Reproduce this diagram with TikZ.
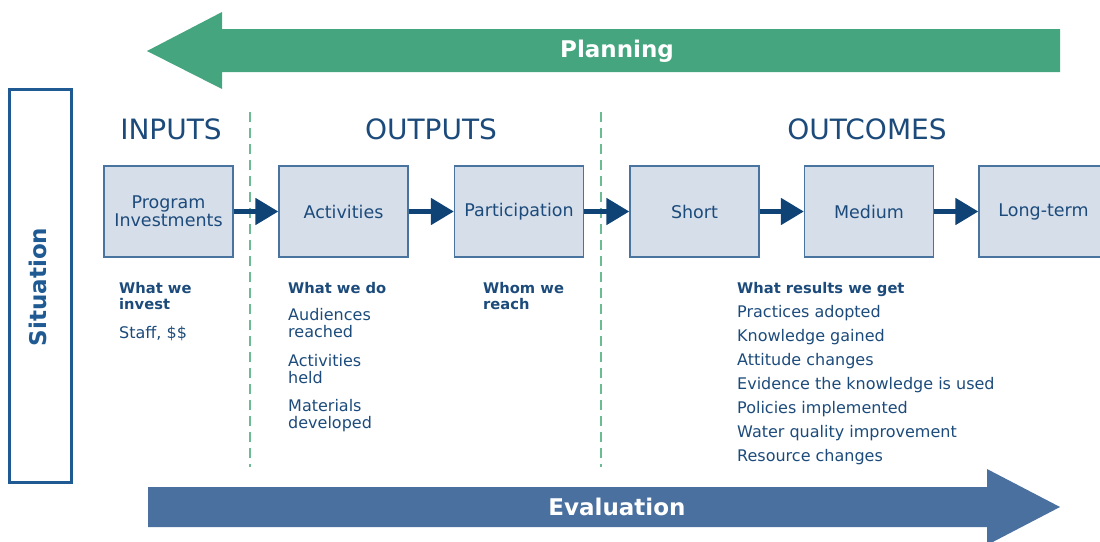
\documentclass[tikz,border=0pt]{standalone}
\usepackage{fontspec}
\setmainfont{DejaVu Sans}
\usetikzlibrary{arrows.meta}
\definecolor{plangreen}{HTML}{44A57F}
\definecolor{dashgreen}{HTML}{6DBB94}
\definecolor{evalblue}{HTML}{4A70A0}
\definecolor{navy}{HTML}{1C4B7B}
\definecolor{boxfill}{HTML}{D6DEEA}
\definecolor{boxline}{HTML}{4A74A0}
\definecolor{connblue}{HTML}{0F4275}
\definecolor{sitblue}{HTML}{1F5A93}
\tikzset{
  stagebox/.style={draw=boxline, line width=1.3pt, fill=boxfill, minimum width=129pt, minimum height=91pt, inner sep=0pt, text=navy, font=\fontsize{17.5}{19}\selectfont, align=center},
  conn/.style={draw=connblue, line width=5pt, -{Triangle[length=23pt,width=26pt]}},
  heading/.style={text=navy, font=\fontsize{28}{30}\selectfont, anchor=base, inner sep=0pt},
  lbl/.style={text=navy, font=\bfseries\fontsize{14.7}{16}\selectfont, anchor=base west, inner sep=0pt},
  item/.style={text=navy, font=\fontsize{16}{17}\selectfont, anchor=base west, inner sep=0pt},
  divider/.style={draw=dashgreen, line width=2.5pt, dash pattern=on 10pt off 6pt},
  bigtext/.style={text=white, font=\bfseries\fontsize{23}{25}\selectfont, inner sep=0pt}
}
\begin{document}
\begin{tikzpicture}[x=1pt,y=-1pt]
\useasboundingbox (0,0) rectangle (1100,541);
\clip (0,0) rectangle (1100,541);
% Planning arrow
\fill[plangreen] (1060,29) -- (222,29) -- (222,12) -- (147,51) -- (222,89) -- (222,72) -- (1060,72) -- cycle;
\node[bigtext] (planning) at (617,51) {Planning};
% Evaluation arrow
\fill[evalblue] (148,487) -- (987,487) -- (987,469) -- (1060,507) -- (987,545) -- (987,527) -- (148,527) -- cycle;
\node[bigtext] (evaluation) at (617,507) {Evaluation};
% Situation box
\draw[sitblue, line width=3pt] (9,89) rectangle (71,482);
\node[text=sitblue, font=\bfseries\fontsize{23}{25}\selectfont, rotate=90, inner sep=0pt] (situation) at (38,287) {Situation};
% dividers
\coordinate (d1t) at (250,112); \coordinate (d1b) at (250,467);
\coordinate (d2t) at (601,112); \coordinate (d2b) at (601,467);
\draw[divider] (d1t) -- (d1b);
\draw[divider] (d2t) -- (d2b);
% headings
\node[heading] (hin) at (171,139) {INPUTS};
\node[heading] (hout) at (431,139) {OUTPUTS};
\node[heading] (hoc) at (867,139) {OUTCOMES};
% boxes
\node[stagebox] (b1) at (168.5,211.5) {Program\\[-1pt]Investments};
\node[stagebox] (b2) at (343.5,211.5) {Activities};
\node[stagebox] (b3) at (519,211.5) {Participation};
\node[stagebox] (b4) at (694.5,211.5) {Short};
\node[stagebox] (b5) at (869,211.5) {Medium};
\node[stagebox] (b6) at (1043.5,211.5) {Long-term};
% connectors
\draw[conn] (b1.east) -- (b2.west);
\draw[conn] (b2.east) -- (b3.west);
\draw[conn] (b3.east) -- (b4.west);
\draw[conn] (b4.east) -- (b5.west);
\draw[conn] (b5.east) -- (b6.west);
% inputs text
\node[lbl] (t1a) at (119,293) {What we};
\node[lbl] (t1b) at (119,309) {invest};
\node[item] (t1c) at (119,338) {Staff, \$\$};
% outputs activities text
\node[lbl] (t2a) at (288,293) {What we do};
\node[item] (t2b) at (288,320) {Audiences};
\node[item] (t2c) at (288,337) {reached};
\node[item] (t2d) at (288,366) {Activities};
\node[item] (t2e) at (288,383) {held};
\node[item] (t2f) at (288,411) {Materials};
\node[item] (t2g) at (288,428) {developed};
% participation text
\node[lbl] (t3a) at (483,293) {Whom we};
\node[lbl] (t3b) at (483,309) {reach};
% outcomes text
\node[lbl] (t4a) at (737,293) {What results we get};
\node[item] (t4b) at (737,317) {Practices adopted};
\node[item] (t4c) at (737,341) {Knowledge gained};
\node[item] (t4d) at (737,365) {Attitude changes};
\node[item] (t4e) at (737,389) {Evidence the knowledge is used};
\node[item] (t4f) at (737,413) {Policies implemented};
\node[item] (t4g) at (737,437) {Water quality improvement};
\node[item] (t4h) at (737,461) {Resource changes};
\end{tikzpicture}
\end{document}
